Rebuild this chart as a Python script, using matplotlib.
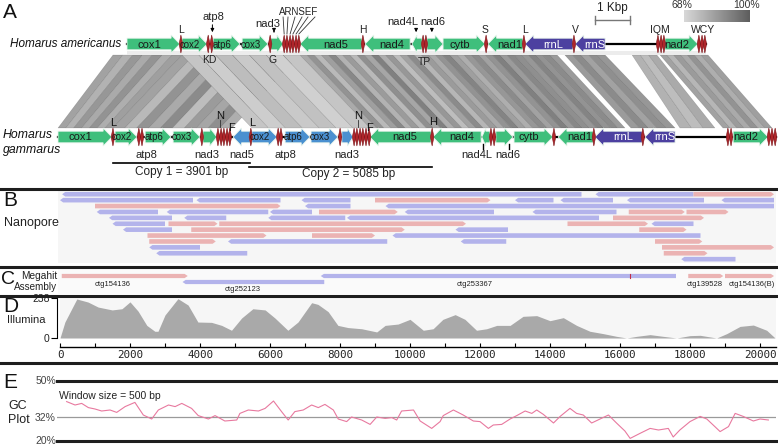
import numpy as np
import matplotlib
matplotlib.use("Agg")
import matplotlib.pyplot as plt
from matplotlib.patches import Polygon, Rectangle
from matplotlib.colors import LinearSegmentedColormap

plt.rcParams['font.family'] = ['Liberation Sans', 'DejaVu Sans']

# ---------------- data ----------------
# panel A gene maps (kb from start of cox1), strand, kind: g=green, b=copy 2, r=rRNA
am_genes = [
    ("cox1", 0.00, 1.51, 1, "g"), ("cox2", 1.57, 2.29, 1, "g"), ("atp6", 2.46, 3.23, 1, "g"),
    ("cox3", 3.29, 4.03, 1, "g"), ("nad3", 4.11, 4.46, 1, "g"), ("nad5", 4.94, 6.71, -1, "g"),
    ("nad4", 6.80, 8.09, -1, "g"), ("nad4L", 8.14, 8.43, -1, "g"), ("nad6", 8.57, 9.03, 1, "g"),
    ("cytb", 9.03, 10.23, 1, "g"), ("nad1", 10.31, 11.31, -1, "g"), ("rrnL", 11.37, 12.74, -1, "r"),
    ("rrnS", 12.80, 13.66, -1, "r"), ("nad2", 15.37, 16.31, 1, "g"),
]
am_trna = [1.54, 2.32, 2.42, 4.09, 4.49, 4.57, 4.66, 4.74, 4.83, 4.91, 6.74, 8.46, 8.54,
           10.26, 11.34, 12.77, 15.17, 15.26, 15.34, 16.34, 16.43, 16.51]

gam_genes = [
    ("cox1", 0.00, 1.54, 1, "g"), ("cox2", 1.63, 2.26, 1, "g"), ("atp6", 2.49, 3.23, 1, "g"),
    ("cox3", 3.29, 4.06, 1, "g"), ("nad3", 4.14, 4.54, 1, "g"), ("nad5", 5.00, 5.49, -1, "b"),
    ("cox2", 5.54, 6.26, 1, "b"), ("atp6", 6.49, 7.20, 1, "b"), ("cox3", 7.23, 8.00, 1, "b"),
    ("nad3", 8.11, 8.43, 1, "b"), ("nad5", 8.91, 10.66, -1, "g"), ("nad4", 10.71, 12.09, -1, "g"),
    ("nad4L", 12.11, 12.34, -1, "g"), ("nad6", 12.51, 13.00, 1, "g"), ("cytb", 13.03, 14.14, 1, "g"),
    ("nad1", 14.29, 15.29, -1, "g"), ("rrnL", 15.34, 16.69, -1, "r"), ("rrnS", 16.77, 17.63, -1, "r"),
    ("nad2", 19.29, 20.29, 1, "g"),
]
gam_trna = [1.57, 2.31, 2.40, 4.11, 4.57, 4.66, 4.74, 4.83, 4.91, 5.51, 6.29, 6.37, 8.06,
            8.46, 8.54, 8.63, 8.71, 8.80, 8.89, 10.69, 12.37, 12.46, 14.17, 15.31, 16.71,
            19.14, 19.23, 20.31, 20.40, 20.49]

# synteny blocks: (americanus start, end, gammarus start, end) in kb, with % identity per strip
syn_blocks = [
    (-0.40, 1.57, 0.00, 1.57),
    (1.57, 4.94, 1.57, 4.97),
    (4.94, 12.29, 8.91, 16.20),
    (12.51, 13.66, 16.37, 17.63),
    (14.43, 15.14, 17.77, 18.77),
    (15.23, 16.60, 19.00, 20.40),
    (1.57, 4.94, 5.54, 8.91),
]
syn_ident = [
    [82, 78, 85, 80, 86, 79, 83],
    [82, 76, 86, 80, 88, 75, 84, 81, 87, 79],
    [80, 86, 76, 83, 89, 78, 84, 76, 87, 81, 91, 79, 85, 75, 82, 88, 77, 84, 80, 86,
     90, 83, 79, 85, 88, 82, 86, 91, 84, 89, 87, 85, 90, 86, 88, 84],
    [84, 88, 82, 87, 85],
    [78, 75, 80],
    [82, 77, 84, 80, 86, 79, 83],
    [73, 71, 75, 72, 74, 70, 73],
]

# panel B nanopore reads: (row, start kb, end kb, direction f/r)
reads = [
    (0, 0.06, 14.9, "r"), (0, 15.3, 18.1, "r"), (0, 18.1, 20.4, "f"),
    (1, 0.0, 3.8, "r"), (1, 3.9, 6.3, "r"), (1, 6.9, 8.3, "r"), (1, 9.0, 12.3, "f"),
    (1, 13.0, 14.1, "r"), (1, 14.3, 15.8, "r"), (1, 16.2, 18.4, "r"), (1, 18.9, 20.4, "r"),
    (2, 1.0, 6.3, "f"), (2, 7.0, 8.3, "r"), (2, 9.3, 20.4, "r"),
    (3, 1.05, 2.8, "r"), (3, 3.05, 5.95, "r"), (3, 6.0, 7.2, "r"), (3, 7.4, 9.65, "f"),
    (3, 9.85, 12.4, "r"), (3, 13.5, 15.9, "r"), (3, 16.25, 17.85, "f"), (3, 17.9, 19.1, "f"),
    (4, 1.4, 3.2, "r"), (4, 3.55, 4.75, "r"), (4, 5.95, 8.15, "r"), (4, 8.2, 15.4, "r"),
    (4, 15.8, 18.4, "f"),
    (5, 1.5, 3.0, "r"), (5, 3.1, 4.5, "f"), (5, 4.55, 11.6, "f"), (5, 14.5, 16.8, "f"),
    (5, 16.9, 18.1, "r"),
    (6, 1.8, 3.2, "r"), (6, 3.75, 9.85, "f"), (6, 11.3, 12.8, "r"), (6, 16.55, 17.9, "f"),
    (7, 2.5, 5.9, "f"), (7, 7.2, 9.0, "f"), (7, 9.5, 18.3, "r"),
    (8, 2.55, 4.45, "f"), (8, 4.8, 9.35, "r"), (8, 11.45, 12.75, "r"), (8, 17.0, 18.35, "f"),
    (9, 2.55, 4.0, "r"), (9, 17.2, 20.4, "f"),
    (10, 2.75, 5.35, "r"), (10, 17.25, 18.5, "f"),
    (11, 17.75, 19.3, "r"),
]

# panel C megahit contigs: (row, start kb, end kb, direction, name, label kb)
contigs = [
    (0, 0.05, 3.65, "f", "ctg154136", 1.51),
    (1, 3.50, 7.55, "r", "ctg252123", 5.23),
    (0, 7.45, 17.6, "r", "ctg253367", 11.86),
    (0, 17.95, 18.95, "f", "ctg139528", 18.43),
    (0, 19.00, 20.40, "f", "ctg154136(B)", 19.77),
]

# panel D illumina coverage
cov_kb = [0.0, 0.14, 0.48, 0.8, 1.09, 1.49, 1.77, 2.0, 2.23, 2.48, 2.71, 2.8, 3.0, 3.37, 3.66,
          3.94, 4.33, 4.62, 4.9, 5.19, 5.51, 5.86, 6.14, 6.51, 6.8, 7.19, 7.37, 7.66, 7.94, 8.23,
          8.62, 9.05, 9.29, 9.66, 10.0, 10.38, 10.66, 10.94, 11.29, 11.57, 11.9, 12.19, 12.48,
          12.86, 13.23, 13.62, 14.0, 14.38, 14.76, 15.14, 15.52, 15.9, 16.19, 16.48, 16.86,
          17.23, 17.62, 18.0, 18.29, 18.76, 19.05, 19.43, 19.81, 20.19, 20.43]
cov = [0, 95, 232, 214, 184, 167, 174, 215, 160, 75, 40, 40, 137, 234, 196,
       95, 93, 75, 46, 119, 174, 167, 119, 46, 95, 210, 200, 157, 75, 62,
       55, 36, 75, 83, 111, 46, 55, 111, 139, 111, 46, 55, 75,
       75, 129, 133, 103, 121, 75, 40, 26, 10, 0, 10, 20,
       10, 0, 14, 16, 0, 26, 69, 77, 46, 0]

# panel E GC content (%), 500 bp window
gc_kb = [0.19, 0.43, 0.62, 0.81, 1.0, 1.19, 1.43, 1.62, 1.86, 2.14, 2.38, 2.62, 2.81, 3.1, 3.29,
         3.48, 3.76, 3.95, 4.24, 4.43, 4.71, 5.05, 5.14, 5.38, 5.67, 5.86, 6.1, 6.33, 6.52, 6.71,
         6.95, 7.19, 7.38, 7.57, 7.81, 7.95, 8.19, 8.33, 8.62, 8.86, 9.05, 9.29, 9.48, 9.62, 9.76,
         10.1, 10.29, 10.62, 10.86, 10.95, 11.24, 11.52, 11.81, 12.0, 12.24, 12.38, 12.62, 12.86,
         13.05, 13.29, 13.48, 13.62, 13.81, 14.1, 14.29, 14.57, 14.76, 14.95, 15.19, 15.43,
         15.67, 15.9, 16.14, 16.29, 16.57, 16.86, 17.1, 17.38, 17.52, 17.71, 18.0, 18.29, 18.48,
         18.71, 18.86, 19.1, 19.29, 19.52, 19.81, 20.0, 20.24]
gc = [39.7, 38, 38.8, 36.7, 36, 35, 35.5, 34.3, 37.2, 39.3, 33, 31, 35.5, 38, 37.2,
      38.8, 36.3, 32.7, 31, 32.7, 30, 30.5, 33.8, 35.5, 35, 36.3, 40, 34.7, 30.5, 34.7,
      35.5, 38, 36.7, 38.3, 35.5, 31, 29.7, 32, 30.5, 28.3, 32, 31.3, 31.7, 30.5, 35,
      35.5, 30, 26.3, 29.7, 32.7, 35.5, 33, 30, 29.7, 26.3, 28, 28.3, 31,
      32.7, 35, 33.8, 35.5, 33.3, 29, 32.3, 36.3, 33.8, 33, 29, 31,
      33, 29, 25, 21.3, 23.8, 26.3, 25.5, 26.3, 22, 25.5, 29.7, 32.3, 31,
      27.2, 24.7, 27.2, 33.8, 32.3, 30, 31, 30.5]

# ---------------- layout ----------------
W, H = 778, 446
PX_PER_KB = 35.0
fig = plt.figure(figsize=(W / 100, H / 100), dpi=100)


def fbox(l, t, r, b):
    return [l / W, 1 - b / H, (r - l) / W, (b - t) / H]


def bp(px):
    # pixel column -> bp on the shared genome axis (0 bp at px 60)
    return (px - 60) / PX_PER_KB * 1000


GENE_COL = {"g": "#3fbf7c", "b": "#4a90d0", "r": "#4c40a0"}
TRNA_COL = "#b0262b"

# ---------------- panel A ----------------
axA = fig.add_axes(fbox(0, 0, W, 190))
axA.set_xlim(-58 / PX_PER_KB, (W - 58) / PX_PER_KB)
axA.set_ylim(190, 0)
axA.axis("off")

AM_SHIFT = 69 / PX_PER_KB
AM_Y, GAM_Y = 44, 137
SYN_TOP, SYN_BOT = 55, 128

id_cmap = LinearSegmentedColormap.from_list("ident", ["#d8d8d8", "#5e5e5e"])

for (a0, a1, g0, g1), ids in zip(syn_blocks, syn_ident):
    n = len(ids)
    for i, v in enumerate(ids):
        ta = a0 + (a1 - a0) * i / n + AM_SHIFT
        tb = a0 + (a1 - a0) * (i + 1) / n + AM_SHIFT
        ba = g0 + (g1 - g0) * i / n
        bb = g0 + (g1 - g0) * (i + 1) / n
        axA.add_patch(Polygon([(ta, SYN_TOP), (tb, SYN_TOP), (bb, SYN_BOT), (ba, SYN_BOT)],
                              closed=True, fc=id_cmap((v - 68) / 32.0),
                              ec=(0, 0, 0, 0.22), lw=0.3, zorder=1))

axA.add_patch(Rectangle((AM_SHIFT, 51), 16.55, 4, fc="#ececec", ec="none", zorder=1.5))


def gene_arrow(ax, x0, x1, yc, strand, color):
    hb, hh = 5.8, 9
    hl = min(0.25, (x1 - x0) * 0.5)
    if strand > 0:
        pts = [(x0, yc - hb), (x1 - hl, yc - hb), (x1 - hl, yc - hh), (x1, yc),
               (x1 - hl, yc + hh), (x1 - hl, yc + hb), (x0, yc + hb)]
    else:
        pts = [(x1, yc - hb), (x0 + hl, yc - hb), (x0 + hl, yc - hh), (x0, yc),
               (x0 + hl, yc + hh), (x0 + hl, yc + hb), (x1, yc + hb)]
    ax.add_patch(Polygon(pts, closed=True, fc=color, ec="#e8f4ec", lw=0.6, zorder=3))
    return hl


def trna(ax, x, yc):
    w = 0.05
    ax.add_patch(Polygon([(x - w, yc), (x, yc - 9), (x + w, yc), (x, yc + 9)], closed=True,
                         fc=TRNA_COL, ec="#7a1418", lw=0.4, zorder=4))


def draw_track(genes, trnas, shift, yc, end):
    axA.plot([shift, shift + end], [yc, yc], color="k", lw=1.6, zorder=2)
    for name, s, e, strand, kind in genes:
        hl = gene_arrow(axA, s + shift, e + shift, yc, strand, GENE_COL[kind])
        if e - s >= 0.55:
            cx = (s + e - hl) / 2 + shift if strand > 0 else (s + hl + e) / 2 + shift
            fs = 8 if e - s > 0.8 else 6.9
            axA.text(cx, yc + 0.5, name, ha="center", va="center", fontsize=fs,
                     color="white" if kind == "r" else "#1a1a1a", zorder=5)
    for t in trnas:
        trna(axA, t + shift, yc)


draw_track(am_genes, am_trna, AM_SHIFT, AM_Y, 16.55)
draw_track(gam_genes, gam_trna, 0.0, GAM_Y, 20.52)

# americanus annotations
for txt, k, y in [("L", 1.54, 30), ("H", 6.74, 30), ("S", 10.23, 30), ("L", 11.37, 30),
                  ("V", 12.80, 30), ("IQM", 15.23, 30), ("WCY", 16.46, 30)]:
    axA.text(k + AM_SHIFT, y, txt, ha="center", va="center", fontsize=7.5, color="#222")
for txt, k, y, ak in [("atp8", 2.46, 17, 2.44), ("nad3", 4.03, 24, 4.20),
                      ("nad4L", 7.89, 22, 8.26), ("nad6", 8.74, 22, 8.71)]:
    axA.text(k + AM_SHIFT, y, txt, ha="center", va="center", fontsize=8, color="#222")
    axA.annotate("", xy=(ak + AM_SHIFT, 35), xytext=(ak + AM_SHIFT, y + 5),
                 arrowprops=dict(arrowstyle="-|>", lw=0.7, color="k", mutation_scale=5))
for txt, k, y in [("KD", 2.34, 60), ("G", 4.17, 60), ("TP", 8.51, 62)]:
    axA.text(k + AM_SHIFT, y, txt, ha="center", va="center", fontsize=7.5, color="#222", zorder=6)

axA.text(4.91 + AM_SHIFT, 12, "ARNSEF", ha="center", va="center", fontsize=7, color="#222")
for top, bot in zip([4.46, 4.60, 4.80, 5.00, 5.17, 5.37], [4.49, 4.57, 4.66, 4.74, 4.83, 4.91]):
    axA.plot([top + AM_SHIFT, bot + AM_SHIFT], [17, 34], color="#333", lw=0.6)

# gammarus annotations
for txt, k, y in [("L", 1.57, 123), ("N", 4.63, 116), ("F", 4.97, 128), ("L", 5.54, 123),
                  ("N", 8.57, 116), ("F", 8.91, 128), ("H", 10.71, 122)]:
    axA.text(k, y, txt, ha="center", va="center", fontsize=8, color="#111", zorder=6)
for k in [4.63, 8.57]:
    axA.plot([k, k], [120, 127], color="#333", lw=0.6, zorder=6)
for txt, k in [("atp8", 2.54), ("nad3", 4.26), ("nad5", 5.26), ("atp8", 6.49),
               ("nad3", 8.26), ("nad4L", 11.97), ("nad6", 12.86)]:
    axA.text(k, 155, txt, ha="center", va="center", fontsize=8, color="#222")
for k in [12.14, 12.89]:
    axA.plot([k, k], [144, 149], color="k", lw=1)

axA.plot([1.57, 5.49], [163, 163], color="k", lw=1.2)
axA.plot([5.46, 10.69], [167, 167], color="k", lw=1.2)
axA.text(3.53, 172.5, "Copy 1 = 3901 bp", ha="center", va="center", fontsize=8.5, color="#222")
axA.text(8.30, 174.5, "Copy 2 = 5085 bp", ha="center", va="center", fontsize=8.5, color="#222")

# scale bar and identity legend
sb0 = (595 - 58) / PX_PER_KB
axA.plot([sb0, sb0 + 1], [20, 20], color="#777", lw=1)
axA.plot([sb0, sb0], [16, 24], color="#777", lw=1)
axA.plot([sb0 + 1, sb0 + 1], [16, 24], color="#777", lw=1)
axA.text(sb0 + 0.5, 8, "1 Kbp", ha="center", va="center", fontsize=8.5, color="#222")
grad = np.linspace(0, 1, 100).reshape(1, -1)
g0, g1 = (684 - 58) / PX_PER_KB, (750 - 58) / PX_PER_KB
axA.imshow(grad, cmap=id_cmap, extent=(g0, g1, 22, 10), aspect="auto", zorder=2)
axA.text((682 - 58) / PX_PER_KB, 5, "68%", ha="center", va="center", fontsize=7.5, color="#333")
axA.text((747 - 58) / PX_PER_KB, 5, "100%", ha="center", va="center", fontsize=7.5, color="#333")
axA.set_xlim(-58 / PX_PER_KB, (W - 58) / PX_PER_KB)
axA.set_ylim(190, 0)

axA.text(-48 / PX_PER_KB, AM_Y, "Homarus americanus", ha="left", va="center",
         fontsize=8.5, style="italic", color="#111")
axA.text(-55 / PX_PER_KB, 135, "Homarus", ha="left", va="center", fontsize=8.8,
         style="italic", color="#111")
axA.text(-55 / PX_PER_KB, 150, "gammarus", ha="left", va="center", fontsize=8.8,
         style="italic", color="#111")

# ---------------- panel B ----------------
axB = fig.add_axes(fbox(58, 191, 776, 263))
axB.set_xlim(bp(58), bp(776))
axB.set_ylim(11.65, -0.55)
axB.set_facecolor("#f6f6f6")
for s in axB.spines.values():
    s.set_visible(False)
axB.set_xticks([])
axB.set_yticks([])

READ_COL = {"f": "#ebb3b3", "r": "#b3b3eb"}


def read_poly(ax, x0, x1, y, d, half, tip):
    if d == "f":
        pts = [(x0, y - half), (x1 - tip, y - half), (x1, y), (x1 - tip, y + half), (x0, y + half)]
    else:
        pts = [(x1, y - half), (x0 + tip, y - half), (x0, y), (x0 + tip, y + half), (x1, y + half)]
    ax.add_patch(Polygon(pts, closed=True, fc=READ_COL[d], ec="none"))


for row, s, e, d in reads:
    read_poly(axB, s * 1000, e * 1000, row, d, 0.39, 90)

# ---------------- panel C ----------------
axC = fig.add_axes(fbox(58, 268, 776, 294))
axC.set_xlim(bp(58), bp(776))
axC.set_ylim(294, 268)
axC.set_facecolor("#fafafa")
for s in axC.spines.values():
    s.set_visible(False)
axC.set_xticks([])
axC.set_yticks([])
for row, s, e, d, name, lk in contigs:
    yc = 276 + 6 * row
    read_poly(axC, s * 1000, e * 1000, yc, d, 2.1, 90)
    axC.text(lk * 1000, 284 + 5.5 * row, name, ha="center", va="center", fontsize=5.5,
             color="#222")
axC.plot([16300, 16300], [274, 278], color="#c0304a", lw=0.8)

# ---------------- panel D ----------------
axD = fig.add_axes(fbox(60, 298, 776, 338))
axD.set_xlim(0, bp(776))
axD.set_ylim(0, 238)
axD.set_facecolor("#f6f6f6")
axD.fill_between(np.array(cov_kb) * 1000, cov, 0, color="#a9a9a9", lw=0)
axD.spines["top"].set_visible(False)
axD.spines["right"].set_visible(False)
axD.spines["left"].set_position(("outward", 2.5))
axD.spines["bottom"].set_position(("outward", 6.5))
axD.spines["left"].set_linewidth(0.8)
axD.spines["bottom"].set_linewidth(1.0)
axD.set_yticks([0, 238])
axD.set_yticklabels(["0", "238"], fontsize=7.5, color="#222")
axD.tick_params(axis="y", length=4, width=0.8, pad=1)
axD.set_xticks(np.arange(0, 20001, 2000))
axD.set_xticks(np.arange(1000, 20001, 2000), minor=True)
axD.tick_params(axis="x", which="both", direction="in", length=3, width=0.8, pad=2)
for lab in axD.get_xticklabels():
    lab.set_family("DejaVu Sans Mono")
    lab.set_fontsize(7.8)
    lab.set_color("#222")

# ---------------- panel E ----------------
axE = fig.add_axes(fbox(57, 381, 776, 441))
axE.set_xlim(bp(57), bp(776))
axE.set_ylim(20, 50)
axE.axis("off")
axE.axhline(50, color="#1e1e1e", lw=2.2, clip_on=False)
axE.axhline(20, color="#1e1e1e", lw=2.2, clip_on=False)
axE.axhline(32, color="#9a9a9a", lw=0.9)
axE.plot(np.array(gc_kb) * 1000, gc, color="#e8799f", lw=0.8)

# ---------------- overlay: separators and panel labels ----------------
axO = fig.add_axes([0, 0, 1, 1], zorder=10)
axO.set_xlim(0, W)
axO.set_ylim(H, 0)
axO.axis("off")
axO.patch.set_alpha(0)
for y in [188.5, 266.5, 295.5, 363]:
    axO.plot([0, W], [y, y], color="#1e1e1e", lw=2.2)

axO.text(3, 12, "A", fontsize=15, va="center", ha="left", color="#111")
axO.text(3, 201, "B", fontsize=15, va="center", ha="left", color="#111")
axO.text(4, 223, "Nanopore", fontsize=9, va="center", ha="left", color="#222")
axO.text(1, 280, "C", fontsize=14, va="center", ha="left", color="#111")
axO.text(57, 276, "Megahit", fontsize=7.3, va="center", ha="right", color="#222")
axO.text(57, 287.5, "Assembly", fontsize=7.1, va="center", ha="right", color="#222")
axO.text(3, 306, "D", fontsize=15, va="center", ha="left", color="#111")
axO.text(7, 320, "Illumina", fontsize=8, va="center", ha="left", color="#222")
axO.text(3, 382, "E", fontsize=15, va="center", ha="left", color="#111")
axO.text(56, 381, "50%", fontsize=7.5, va="center", ha="right", color="#444")
axO.text(56, 418, "32%", fontsize=7.5, va="center", ha="right", color="#444")
axO.text(56, 441, "20%", fontsize=7.5, va="center", ha="right", color="#444")
axO.text(8, 406, "GC", fontsize=9, va="center", ha="left", color="#222")
axO.text(8, 420, "Plot", fontsize=9, va="center", ha="left", color="#222")
axO.text(59, 396, "Window size = 500 bp", fontsize=7.5, va="center", ha="left", color="#222")

fig.savefig("out.png", dpi=100)
